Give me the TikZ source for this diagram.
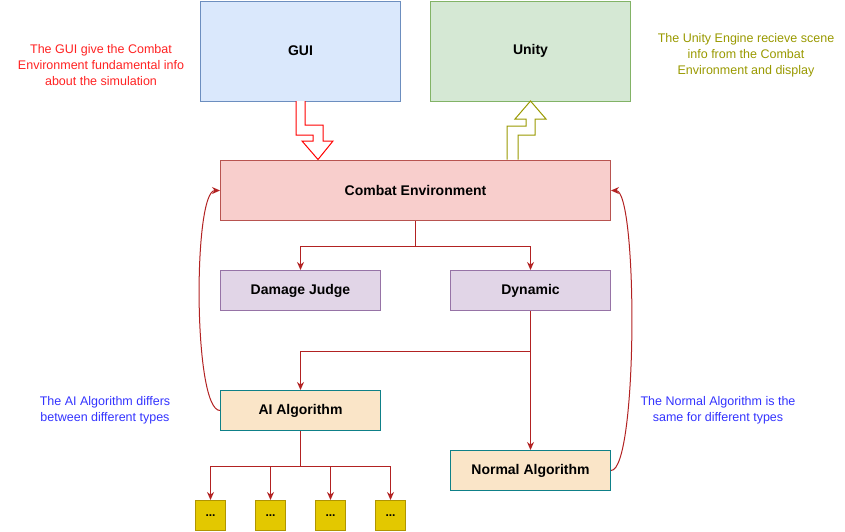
\documentclass[tikz,border=0pt]{standalone}
\usepackage{fontspec}
\setmainfont{Liberation Sans}
\usetikzlibrary{arrows.meta,calc}
\definecolor{guiF}{HTML}{DAE8FC}\definecolor{guiD}{HTML}{6C8EBF}
\definecolor{uniF}{HTML}{D5E8D4}\definecolor{uniD}{HTML}{82B366}
\definecolor{ceF}{HTML}{F8CECC}\definecolor{ceD}{HTML}{B85450}
\definecolor{puF}{HTML}{E1D5E7}\definecolor{puD}{HTML}{9673A6}
\definecolor{orF}{HTML}{FAE5C8}\definecolor{orD}{HTML}{0E8088}
\definecolor{yeF}{HTML}{E3C800}\definecolor{yeD}{HTML}{B09500}
\definecolor{edge}{HTML}{B22222}
\definecolor{noteR}{HTML}{FF2222}\definecolor{noteO}{HTML}{999900}\definecolor{noteB}{HTML}{3333FF}
\tikzset{
  box/.style={draw, line width=1pt, inner sep=0pt, font=\fontsize{14}{16}\selectfont\bfseries, anchor=north west},
  conn/.style={draw=edge, line width=1pt, -{Stealth[length=8pt,width=7pt]}},
  note/.style={align=center, font=\fontsize{12.5}{16}\selectfont, inner sep=0pt},
  small/.style={box, fill=yeF, draw=yeD, minimum width=30pt, minimum height=30pt, font=\fontsize{12}{14}\selectfont\bfseries}
}
\begin{document}
\begin{tikzpicture}[x=1pt,y=-1pt]
\useasboundingbox (0,0) rectangle (845,531);
\node[box, fill=guiF, draw=guiD, minimum width=200pt, minimum height=100pt] (gui) at (200,0.5) {GUI};
\node[box, fill=uniF, draw=uniD, minimum width=200pt, minimum height=100pt] (uni) at (430,0.5) {Unity};
\node[box, fill=ceF, draw=ceD, minimum width=390pt, minimum height=60pt] (ce) at (220,160) {Combat Environment};
\node[box, fill=puF, draw=puD, minimum width=160pt, minimum height=40pt] (dj) at (220,270) {Damage Judge};
\node[box, fill=puF, draw=puD, minimum width=160pt, minimum height=40pt] (dyn) at (450,270) {Dynamic};
\node[box, fill=orF, draw=orD, minimum width=160pt, minimum height=40pt] (ai) at (220,390) {AI Algorithm};
\node[box, fill=orF, draw=orD, minimum width=160pt, minimum height=40pt] (na) at (450,450) {Normal Algorithm};
\node[small] (s1) at (195,500) {...};
\node[small] (s2) at (255,500) {...};
\node[small] (s3) at (315,500) {...};
\node[small] (s4) at (375,500) {...};

% fat arrows
\draw[draw=red, fill=white, line width=1pt, line join=miter]
  (296,101) -- (296,135) -- (313,135) -- (313,141) -- (302,141) -- (318,159.5) -- (333,141) -- (323,141) -- (323,125) -- (305,125) -- (305,101);
\draw[draw=noteO, fill=white, line width=1pt, line join=miter]
  (507,159.5) -- (507,126) -- (526,126) -- (526,119) -- (515,119) -- (530.5,101) -- (546,119) -- (535,119) -- (535,135) -- (518,135) -- (518,159.5);

% connectors
\draw[conn] (ce.south) -- ($(ce.south)+(0,25)$) -| (dj.north);
\draw[conn] ($(ce.south)+(0,25)$) -| (dyn.north);
\draw[conn] (dyn.south) -- ++(0,40) -| (ai.north);
\draw[conn] (dyn.south) -- (na.north);
\draw[conn] (ai.south) -- ++(0,35) -| (s1.north);
\draw[conn] (ai.south) -- ++(0,35) -| (s2.north);
\draw[conn] (ai.south) -- ++(0,35) -| (s3.north);
\draw[conn] (ai.south) -- ++(0,35) -| (s4.north);
\draw[conn] (ai.west) .. controls ($(ai.west)+(-27,0)$) and ($(ce.west)+(-27,0)$) .. (ce.west);
\draw[conn] (na.east) .. controls ($(na.east)+(27,0)$) and ($(ce.east)+(27,0)$) .. (ce.east);

% notes
\node[note, text=noteR] (n1) at (101,65) {The GUI give the Combat\\Environment fundamental info\\about the simulation};
\node[note, text=noteO] (n2) at (746,55) {The Unity Engine recieve scene\\info from the Combat\\Environment and display};
\node[note, text=noteB] (n3) at (105,410) {The AI Algorithm differs\\between different types};
\node[note, text=noteB] (n4) at (718,410) {The Normal Algorithm is the\\same for different types};
\end{tikzpicture}
\end{document}
